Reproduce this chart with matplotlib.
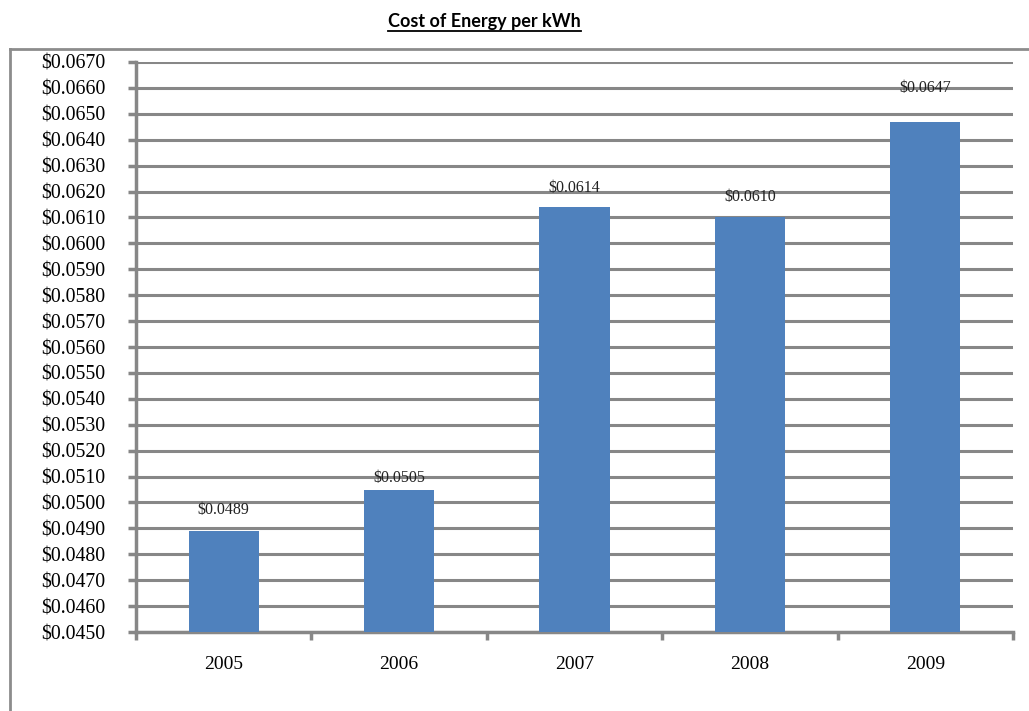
import matplotlib.pyplot as plt
from matplotlib.lines import Line2D

# Cost per kWh by year
years = ['2005', '2006', '2007', '2008', '2009']
cost = [0.0489, 0.0505, 0.0614, 0.0610, 0.0647]
labels = ['$0.0489', '$0.0505', '$0.0614', '$0.0610', '$0.0647']
# gap between bar top and its label, in points
label_gap = [15, 8.6, 13.7, 14.4, 24.5]

gris = '#878787'
azul = '#4F81BD'

fig = plt.figure(figsize=(10.29, 7.11), dpi=100)
ax = fig.add_axes([0.1322, 0.1111, 0.8523, 0.8017])

x = list(range(len(years)))
ax.bar(x, cost, width=0.4, color=azul, zorder=3)

for xi, v, t, g in zip(x, cost, labels, label_gap):
    ax.annotate(t, (xi, v), xytext=(0, g), textcoords='offset points',
                ha='center', va='center', fontsize=11.5,
                family='Liberation Serif', color='#222222', zorder=4)

ax.set_ylim(0.045, 0.067)
ax.set_xlim(-0.5, len(years) - 0.5)
yt = [0.045 + 0.001 * i for i in range(23)]
ax.set_yticks(yt)
ax.set_yticklabels(['${:.4f}'.format(v) for v in yt], family='Liberation Serif',
                   fontsize=14.3)
ax.grid(axis='y', color=gris, linewidth=2.2, zorder=0)
ax.set_axisbelow(True)

# ticks at category boundaries, labels at centers
ax.set_xticks([i + 0.5 for i in range(-1, len(years))])
ax.set_xticklabels([])
ax.set_xticks(x, minor=True)
ax.set_xticklabels(years, minor=True, family='Liberation Serif', fontsize=14)
ax.tick_params(axis='x', which='minor', length=0, pad=17.5)
ax.tick_params(axis='x', which='major', length=6, width=2.5, color=gris)
ax.tick_params(axis='y', length=6, width=2.5, color=gris, pad=16)

for s in ['top', 'right']:
    ax.spines[s].set_visible(False)
for s in ['left', 'bottom']:
    ax.spines[s].set_color(gris)
    ax.spines[s].set_linewidth(2.5)

# outer chart border
x0 = 10 / 1029
y0 = 1 - 49 / 711
fig.add_artist(Line2D([x0, x0], [0, y0], transform=fig.transFigure,
                      color='#8c8c8c', linewidth=2))
fig.add_artist(Line2D([x0, 1], [y0, y0], transform=fig.transFigure,
                      color='#8c8c8c', linewidth=2))

# underlined title
titulo = fig.text(0.4705, 1 - 22 / 711, 'Cost of Energy per kWh', ha='center',
                  va='center', fontsize=13, fontweight='bold', family='Lato')
fig.canvas.draw()
bb = titulo.get_window_extent().transformed(fig.transFigure.inverted())
fig.add_artist(Line2D([bb.x0, bb.x1], [bb.y0 - 0.001, bb.y0 - 0.001],
                      transform=fig.transFigure, color='black', linewidth=1.3))

fig.savefig('out.png', dpi=100)
